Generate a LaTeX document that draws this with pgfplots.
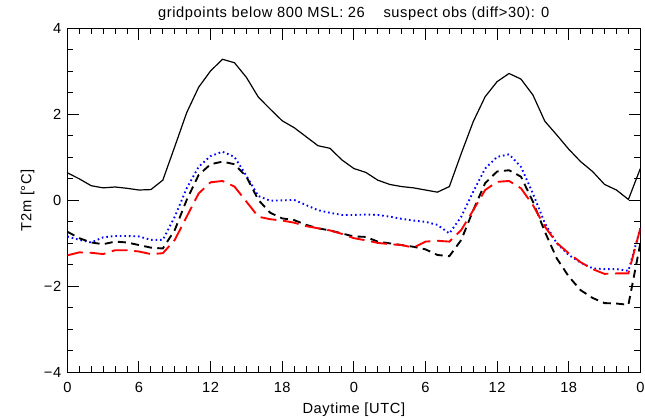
\documentclass[border=0pt]{standalone}
\usepackage{fontspec}
\setmainfont{Liberation Sans}[LetterSpace=4]
\usepackage{pgfplots}
\pgfplotsset{compat=1.18}
\begin{document}
\begin{tikzpicture}[x=1pt,y=1pt,font=\fontsize{11}{13}\selectfont]
\useasboundingbox (0,0) rectangle (483.75,312.75);
\begin{axis}[
  at={(50.5pt,33.5pt)}, anchor=south west,
  scale only axis, width=429.75pt, height=258pt,
  xmin=0, xmax=48, ymin=-4, ymax=4,
  xtick={0,6,...,48}, xticklabels={0,6,12,18,0,6,12,18,0},
  ytick={-4,-2,0,2,4}, yticklabels={−4,−2,0,2,4},
  minor x tick num=5, minor y tick num=3,
  tick align=inside, major tick length=8.5pt, minor tick length=4.5pt,
  axis line style={line width=0.7pt}, every tick/.style={line width=0.7pt, black},
  ticklabel style={font=\fontsize{11}{13}\selectfont},
  label style={font=\fontsize{11}{13}\selectfont},
  xticklabel style={yshift=-4pt}, yticklabel style={xshift=-1pt},
  title={gridpoints below 800 MSL: 26\ \ \ \ suspect obs (diff>30): 0},
  title style={at={(axis description cs:0.5,1)}, anchor=base, yshift=2pt, font=\fontsize{11}{13}\selectfont},
  xlabel={Daytime [UTC]},
  xlabel style={at={(axis description cs:0.5,0)}, anchor=base, yshift=-31pt},
  ylabel={T2m [°C]},
  ylabel style={at={(axis description cs:0,0.5)}, anchor=base, rotate=0, xshift=0pt, yshift=27pt},
  clip=true,
]
\addplot[black, line width=0.9pt] coordinates {
(0,0.64)(1,0.50)(2,0.34)(3,0.29)(4,0.31)(5,0.28)(6,0.24)(7,0.25)(8,0.47)(9,1.25)(10,2.04)(11,2.63)(12,3.01)(13,3.28)(14,3.20)(15,2.86)(16,2.40)(17,2.12)(18,1.85)(19,1.69)(20,1.48)(21,1.27)(22,1.21)(23,0.94)(24,0.74)
(25,0.65)(26,0.47)(27,0.37)(28,0.32)(29,0.29)(30,0.24)(31,0.19)(32,0.32)(33,1.09)(34,1.83)(35,2.41)(36,2.76)(37,2.95)(38,2.82)(39,2.45)(40,1.84)(41,1.52)(42,1.19)(43,0.90)(44,0.67)(45,0.37)(46,0.24)(47,0.02)(48,0.74)};
\addplot[blue, line width=1.4pt, dash pattern=on 1.2pt off 2.2pt] coordinates {
(0,-0.84)(1,-0.92)(2,-0.98)(3,-0.86)(4,-0.83)(5,-0.83)(6,-0.84)(7,-0.92)(8,-0.92)(9,-0.38)(10,0.28)(11,0.78)(12,1.03)(13,1.13)(14,1.01)(15,0.57)(16,0.10)(17,-0.01)(18,0.00)(19,0.01)(20,-0.11)(21,-0.23)(22,-0.29)(23,-0.34)(24,-0.34)
(25,-0.33)(26,-0.34)(27,-0.38)(28,-0.43)(29,-0.47)(30,-0.50)(31,-0.57)(32,-0.77)(33,-0.38)(34,0.20)(35,0.74)(36,1.01)(37,1.07)(38,0.78)(39,0.16)(40,-0.53)(41,-1.00)(42,-1.27)(43,-1.45)(44,-1.58)(45,-1.60)(46,-1.60)(47,-1.64)(48,-0.65)};
\addplot[black, line width=1.4pt, dash pattern=on 6pt off 4pt] coordinates {
(0,-0.73)(1,-0.88)(2,-0.98)(3,-1.02)(4,-0.96)(5,-0.98)(6,-1.04)(7,-1.10)(8,-1.12)(9,-0.69)(10,0.01)(11,0.59)(12,0.84)(13,0.90)(14,0.84)(15,0.55)(16,0.01)(17,-0.29)(18,-0.42)(19,-0.46)(20,-0.57)(21,-0.65)(22,-0.70)(23,-0.77)(24,-0.84)
(25,-0.85)(26,-0.96)(27,-1.00)(28,-1.04)(29,-1.08)(30,-1.14)(31,-1.27)(32,-1.30)(33,-0.92)(34,-0.23)(35,0.40)(36,0.67)(37,0.70)(38,0.55)(39,-0.03)(40,-0.73)(41,-1.35)(42,-1.77)(43,-2.09)(44,-2.27)(45,-2.39)(46,-2.40)(47,-2.43)(48,-1.00)};
\addplot[red, line width=1.4pt, dash pattern=on 12pt off 5pt] coordinates {
(0,-1.28)(1,-1.21)(2,-1.22)(3,-1.25)(4,-1.16)(5,-1.16)(6,-1.19)(7,-1.25)(8,-1.23)(9,-0.92)(10,-0.38)(11,0.16)(12,0.42)(13,0.45)(14,0.32)(15,-0.03)(16,-0.38)(17,-0.44)(18,-0.47)(19,-0.52)(20,-0.60)(21,-0.65)(22,-0.70)(23,-0.78)(24,-0.88)
(25,-0.93)(26,-0.99)(27,-1.02)(28,-1.04)(29,-1.10)(30,-0.96)(31,-0.94)(32,-0.96)(33,-0.69)(34,-0.23)(35,0.24)(36,0.43)(37,0.45)(38,0.28)(39,-0.11)(40,-0.61)(41,-0.99)(42,-1.23)(43,-1.44)(44,-1.60)(45,-1.71)(46,-1.70)(47,-1.70)(48,-0.65)};
\end{axis}
\end{tikzpicture}
\end{document}
